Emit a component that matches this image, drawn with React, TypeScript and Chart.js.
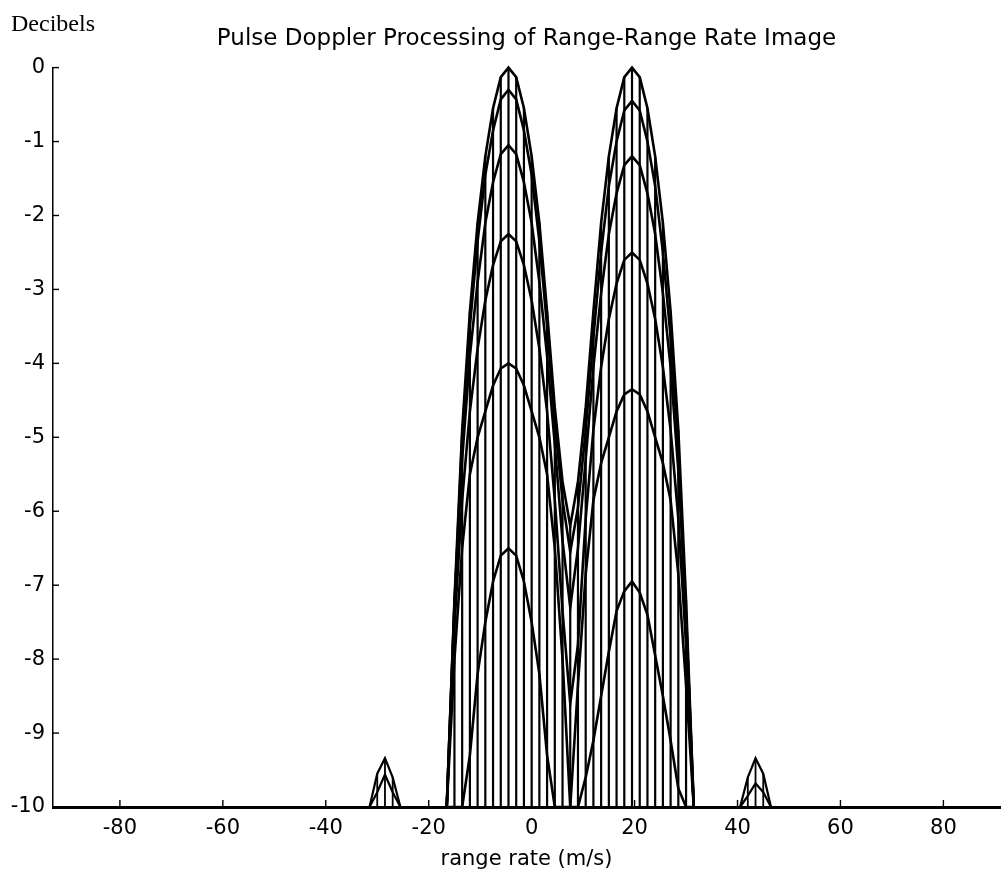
import React, { useEffect, useRef } from 'react';
import { Chart, registerables } from 'chart.js';

Chart.register(...registerables);

// ---- text ----
const TITLE = 'Pulse Doppler Processing of Range-Range Rate Image';
const Y_LABEL = 'Decibels';
const X_LABEL = 'range rate (m/s)';

// ---- ticks ----
const X_TICKS = [-80, -60, -40, -20, 0, 20, 40, 60, 80];
const Y_TICKS = [0, -1, -2, -3, -4, -5, -6, -7, -8, -9, -10];
const X_MIN = -93;
const X_MAX = 91;
const DB_MIN = -10;
const DB_MAX = 0;

// ---- range-rate samples of the main response (m/s) ----
const RATE = [
  -16.5, -15, -13.5, -12, -10.5, -9, -7.5, -6, -4.5, -3, -1.5, 0, 1.5, 3, 4.5, 6,
  7.5, 9, 10.5, 12, 13.5, 15, 16.5, 18, 19.5, 21, 22.5, 24, 25.5, 27, 28.5, 30, 31.5,
];

// ---- one curve per range bin (dB) ----
const DB_BIN0 = [
  -10, -7.2, -4.9, -3.3, -2.1, -1.2, -0.55, -0.13, 0, -0.13, -0.55, -1.2, -2.1, -3.3, -4.6, -5.6,
  -6.2, -5.6, -4.6, -3.3, -2.1, -1.2, -0.55, -0.13, 0, -0.13, -0.55, -1.2, -2.1, -3.3, -4.9, -7.2, -10,
];
const DB_BIN1 = [
  -10, -7.3, -5.0, -3.5, -2.35, -1.45, -0.85, -0.43, -0.3, -0.43, -0.85, -1.45, -2.35, -3.5, -4.8, -5.85,
  -6.55, -5.95, -4.9, -3.65, -2.5, -1.6, -1.0, -0.58, -0.45, -0.58, -1.0, -1.6, -2.5, -3.65, -5.15, -7.45, -10,
];
const DB_BIN2 = [
  -10, -7.25, -5.3, -3.9, -2.9, -2.1, -1.55, -1.17, -1.05, -1.17, -1.55, -2.1, -2.9, -3.9, -5.1, -6.4,
  -7.3, -6.5, -5.3, -4.05, -3.05, -2.25, -1.7, -1.32, -1.2, -1.32, -1.7, -2.25, -3.05, -4.05, -5.45, -7.4, -10,
];
const DB_BIN3 = [
  -10, -7.55, -5.85, -4.65, -3.8, -3.15, -2.67, -2.35, -2.25, -2.35, -2.67, -3.15, -3.8, -4.65, -5.85, -7.35,
  -8.6, -7.8, -6.1, -4.9, -4.05, -3.4, -2.92, -2.6, -2.5, -2.6, -2.92, -3.4, -4.05, -4.9, -6.1, -7.8, -10,
];
const DB_BIN4 = [
  -10, -8.0, -6.5, -5.5, -5.0, -4.65, -4.3, -4.07, -4.0, -4.07, -4.3, -4.65, -5.0, -5.5, -6.5, -8.0,
  -10, -8.35, -6.85, -5.85, -5.35, -5.0, -4.65, -4.42, -4.35, -4.42, -4.65, -5.0, -5.35, -5.85, -6.85, -8.35, -10,
];
const DB_BIN5 = [
  -10, -10, -10, -9.3, -8.2, -7.5, -6.95, -6.6, -6.5, -6.6, -6.95, -7.5, -8.2, -9.3, -10, -10,
  -10, -10, -9.6, -9.1, -8.5, -7.9, -7.35, -7.08, -6.95, -7.1, -7.4, -7.95, -8.5, -9.1, -9.75, -10, -10,
];

// ---- small side responses ----
const SIDE_LEFT_RATE = [-31.5, -30, -28.5, -27, -25.5];
const SIDE_LEFT_UPPER = [-10, -9.55, -9.34, -9.6, -10];
const SIDE_LEFT_LOWER = [-10, -9.8, -9.56, -9.8, -10];
const SIDE_RIGHT_RATE = [40.5, 42, 43.5, 45, 46.5];
const SIDE_RIGHT_UPPER = [-10, -9.6, -9.34, -9.55, -10];
const SIDE_RIGHT_LOWER = [-10, -9.85, -9.68, -9.8, -10];

const MESH_FLOOR = -10;

const INK = '#000000';
const SANS = '"DejaVu Sans", sans-serif';

function pts(xs: number[], ys: number[]) {
  return xs.map((x, i) => ({ x, y: ys[i] }));
}

function columns(xs: number[], tops: number[]) {
  const out: { x: number; y: number | null }[] = [];
  xs.forEach((x, i) => {
    out.push({ x, y: MESH_FLOOR });
    out.push({ x, y: tops[i] });
    out.push({ x, y: null });
  });
  return out;
}

function curve(data: { x: number; y: number | null }[], width: number) {
  return {
    data,
    showLine: true,
    borderColor: INK,
    backgroundColor: INK,
    borderWidth: width,
    pointRadius: 0,
    tension: 0,
    spanGaps: false,
    clip: false as const,
  };
}

const decorations = {
  id: 'decorations',
  afterDraw(chart: any) {
    const { ctx, chartArea, scales } = chart;
    const xs = scales.x;
    const ys = scales.y;
    ctx.save();
    ctx.strokeStyle = INK;
    ctx.lineWidth = 1.4;
    for (const v of X_TICKS) {
      const px = xs.getPixelForValue(v);
      ctx.beginPath();
      ctx.moveTo(px, chartArea.bottom);
      ctx.lineTo(px, chartArea.bottom - 7);
      ctx.stroke();
    }
    for (const v of Y_TICKS) {
      const py = ys.getPixelForValue(v);
      ctx.beginPath();
      ctx.moveTo(chartArea.left, py);
      ctx.lineTo(chartArea.left + 6, py);
      ctx.stroke();
    }
    ctx.fillStyle = INK;
    ctx.font = '24px "Liberation Serif", serif';
    ctx.textBaseline = 'alphabetic';
    ctx.textAlign = 'left';
    ctx.fillText(Y_LABEL, 11, 31);
    ctx.restore();
  },
};

export default function App() {
  const ref = useRef<HTMLCanvasElement>(null);
  useEffect(() => {
    if (!ref.current) return;
    const datasets: any[] = [
      curve(columns(RATE, DB_BIN0), 2.2),
      curve(columns(SIDE_LEFT_RATE, SIDE_LEFT_UPPER), 1.8),
      curve(columns(SIDE_RIGHT_RATE, SIDE_RIGHT_UPPER), 1.8),
      curve(pts(RATE, DB_BIN0), 2.6),
      curve(pts(RATE, DB_BIN1), 2.6),
      curve(pts(RATE, DB_BIN2), 2.6),
      curve(pts(RATE, DB_BIN3), 2.6),
      curve(pts(RATE, DB_BIN4), 2.6),
      curve(pts(RATE, DB_BIN5), 2.6),
      curve(pts(SIDE_LEFT_RATE, SIDE_LEFT_UPPER), 2.2),
      curve(pts(SIDE_LEFT_RATE, SIDE_LEFT_LOWER), 2.2),
      curve(pts(SIDE_RIGHT_RATE, SIDE_RIGHT_UPPER), 2.2),
      curve(pts(SIDE_RIGHT_RATE, SIDE_RIGHT_LOWER), 2.2),
    ];
    const chart = new Chart(ref.current, {
      type: 'scatter',
      data: { datasets },
      options: {
        animation: false,
        responsive: false,
        devicePixelRatio: 1,
        layout: { padding: { left: 0, right: 4, top: 0, bottom: 0 } },
        plugins: {
          legend: { display: false },
          tooltip: { enabled: false },
          title: {
            display: true,
            text: TITLE,
            color: INK,
            fullSize: false,
            font: { family: SANS, size: 23, weight: 'normal' },
            padding: { top: 25, bottom: 15 },
          },
        },
        scales: {
          x: {
            type: 'linear',
            min: X_MIN,
            max: X_MAX,
            afterFit: (s: any) => { s.height = 75; },
            afterBuildTicks: (s: any) => { s.ticks = X_TICKS.map((value) => ({ value })); },
            ticks: { color: INK, font: { family: SANS, size: 21 }, padding: 9, maxRotation: 0, autoSkip: false },
            grid: { display: false, drawTicks: false },
            border: { display: true, color: INK, width: 3 },
            title: {
              display: true,
              text: X_LABEL,
              color: INK,
              font: { family: SANS, size: 21 },
              padding: { top: 0, bottom: 10 },
            },
          },
          y: {
            type: 'linear',
            min: DB_MIN,
            max: DB_MAX,
            afterFit: (s: any) => { s.width = 53; },
            afterBuildTicks: (s: any) => { s.ticks = Y_TICKS.map((value) => ({ value })); },
            ticks: { color: INK, font: { family: SANS, size: 21 }, padding: 8, autoSkip: false },
            grid: { display: false, drawTicks: false },
            border: { display: true, color: INK, width: 1.5 },
          },
        },
      } as any,
      plugins: [decorations],
    });
    return () => chart.destroy();
  }, []);
  return (
    <div style={{ position: 'absolute', left: 0, top: 0, width: 1004, height: 882, background: '#fff' }}>
      <canvas ref={ref} width={1004} height={882} style={{ display: 'block', width: 1004, height: 882 }} />
    </div>
  );
}
